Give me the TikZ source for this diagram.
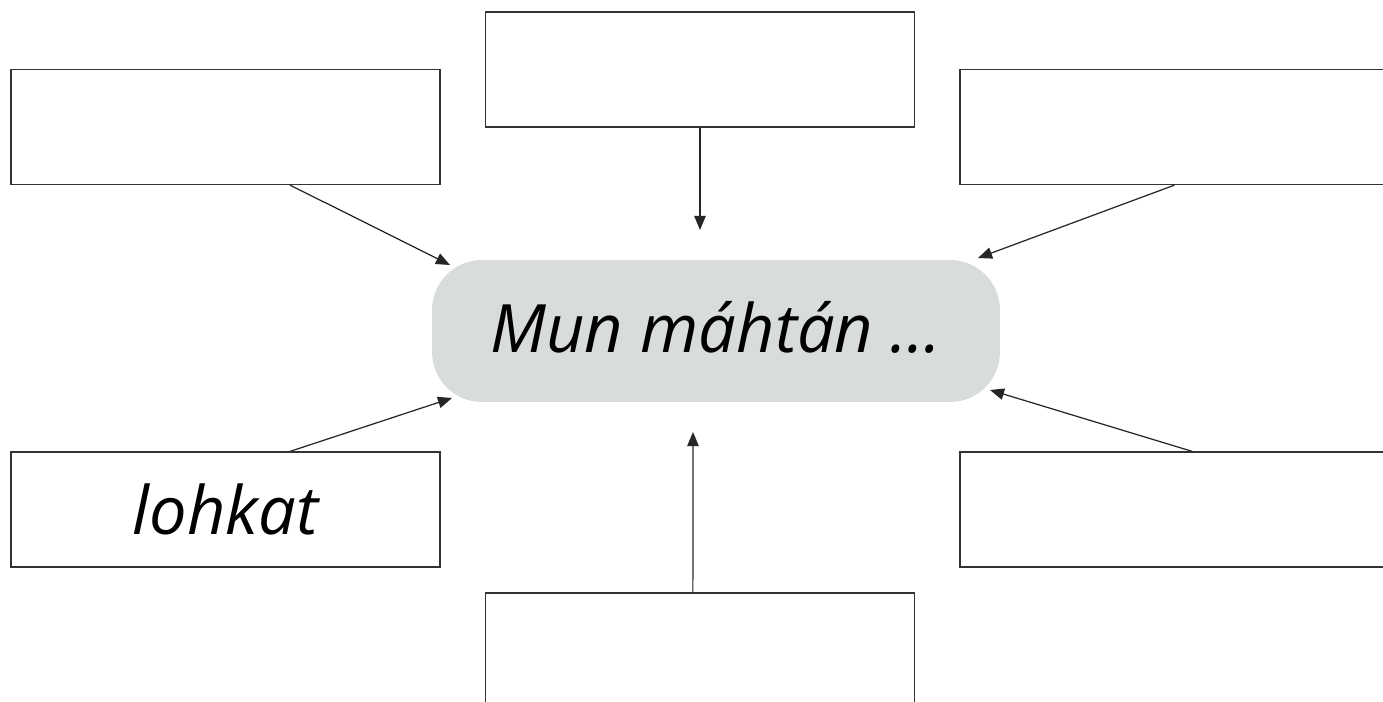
\documentclass[tikz,border=0pt]{standalone}
\usepackage{fontspec}
\setmainfont{Open Sans}
\usetikzlibrary{arrows.meta}
\definecolor{bubblegray}{RGB}{217,220,221}
\tikzset{
  answerbox/.style={rectangle, draw=black!80, line width=0.7pt, minimum width=8.58cm, minimum height=2.3cm, inner sep=0pt},
  mainbubble/.style={rectangle, fill=bubblegray, rounded corners=1cm, minimum width=11.36cm, minimum height=2.84cm},
  pointer/.style={-{Triangle[length=8pt,width=6.5pt]}, line width=0.7pt, black!85}
}
\begin{document}
\begin{tikzpicture}[x=0.02cm, y=-0.02cm]
    \clip (0,0) rectangle (1383,702);
    \fill[white] (0,0) rectangle (1383,702);
    % Centre bubble
    \node[mainbubble] (mun) at (716,331) {\fontsize{38}{44}\selectfont\itshape\raisebox{4.5pt}{Mun máhtán …}};
    % Boxes round it
    \foreach \name/\x/\y/\word in {tl/225.5/127/, tc/700/69.5/, tr/1174.5/127/, bl/225.5/509.5/lohkat, br/1174.5/509.5/, bc/700/650.5/} {
        \node[answerbox] (\name) at (\x,\y) {\fontsize{38}{44}\selectfont\itshape \word};
    }
    % Arrow tips near the bubble
    \coordinate (tltip) at (450,265);
    \coordinate (tctip) at (700,230);
    \coordinate (trtip) at (978,258);
    \coordinate (bltip) at (452,398);
    \coordinate (brtip) at (990,390);
    \coordinate (bctip) at (693,432);
    \draw[pointer] (tl.-42) -- (tltip);
    \draw[pointer] (tc.south) -- (tctip);
    \draw[pointer] (tr.south) -- (trtip);
    \draw[pointer] (bl.42) -- (bltip);
    \draw[pointer] (br.73) -- (brtip);
    \draw[pointer] (bc.97) -- (bctip);
\end{tikzpicture}
\end{document}
